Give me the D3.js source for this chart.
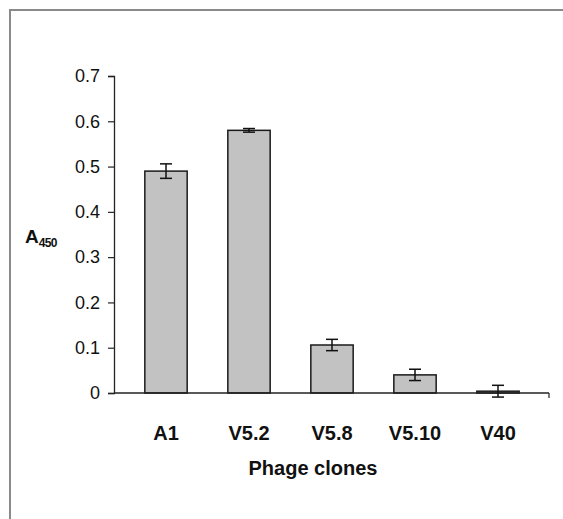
<!DOCTYPE html>
<html>
<head>
<meta charset="utf-8">
<script src="https://cdn.jsdelivr.net/npm/d3@7"></script>
<style>
  body { margin: 0; background: #fff; }
  text { font-family: Arial, "Liberation Sans", sans-serif; fill: #111; }
</style>
</head>
<body>
<div id="chart"></div>
<script>
// data
var clones = ["A1", "V5.2", "V5.8", "V5.10", "V40"];
var a450 = [0.49, 0.58, 0.106, 0.040, 0.004];
var errs = [0.016, 0.004, 0.0125, 0.0125, 0.013];
var yTicks = [0, 0.1, 0.2, 0.3, 0.4, 0.5, 0.6, 0.7];

var W = 563, H = 519;

var svg = d3.select("#chart")
    .append("svg")
    .attr("width", W)
    .attr("height", H);

// outer frame
svg.append("rect")
    .attr("x", 10)
    .attr("y", 10)
    .attr("width", W)
    .attr("height", H)
    .attr("fill", "none")
    .attr("stroke", "#8a8a8a")
    .attr("stroke-width", 2);

var axisLeft = 114, axisRight = 549;

var y = d3.scaleLinear()
    .domain([0, 0.7])
    .range([393, 76]);

var x = d3.scaleBand()
    .domain(clones)
    .range([124.5, 539.5])
    .paddingInner(0.49)
    .paddingOuter(0.245);

// y axis
var yAxis = svg.append("g")
    .attr("transform", "translate(" + axisLeft + ",0)")
    .call(d3.axisLeft(y).tickValues(yTicks).tickSize(6).tickPadding(8)
        .tickFormat(function(d){ return d === 0 ? "0" : d3.format(".1f")(d); }));
yAxis.select(".domain").attr("stroke", "#222").attr("stroke-width", 1.3);
yAxis.selectAll(".tick line").attr("stroke", "#222").attr("stroke-width", 1.2);
yAxis.selectAll(".tick text")
    .style("font-size", "18px")
    .style("font-family", "Arial, 'Liberation Sans', sans-serif")
    .attr("fill", "#222");

// bars
var bars = svg.append("g");
bars.selectAll("rect")
    .data(clones)
    .enter().append("rect")
    .attr("x", function(d){ return x(d); })
    .attr("width", x.bandwidth())
    .attr("y", function(d, i){ return y(a450[i]); })
    .attr("height", function(d, i){ return y(0) - y(a450[i]); })
    .attr("fill", "#c2c2c2")
    .attr("stroke", "#1a1a1a")
    .attr("stroke-width", 1.5);

// x axis line
svg.append("line")
    .attr("x1", axisLeft)
    .attr("x2", axisRight)
    .attr("y1", y(0))
    .attr("y2", y(0))
    .attr("stroke", "#222")
    .attr("stroke-width", 1.3);
svg.append("line")
    .attr("x1", axisRight)
    .attr("x2", axisRight)
    .attr("y1", y(0))
    .attr("y2", y(0) + 5)
    .attr("stroke", "#222")
    .attr("stroke-width", 1.2);

// error bars
var eb = svg.append("g").attr("stroke", "#111").attr("stroke-width", 1.5);
clones.forEach(function(c, i){
    var cx = x(c) + x.bandwidth() / 2;
    var top = y(a450[i] + errs[i]), bot = y(a450[i] - errs[i]);
    eb.append("line").attr("x1", cx).attr("x2", cx).attr("y1", top).attr("y2", bot);
    eb.append("line").attr("x1", cx - 6).attr("x2", cx + 6).attr("y1", top).attr("y2", top);
    eb.append("line").attr("x1", cx - 6).attr("x2", cx + 6).attr("y1", bot).attr("y2", bot);
});

// category labels
svg.append("g").selectAll("text")
    .data(clones)
    .enter().append("text")
    .attr("x", function(d){ return x(d) + x.bandwidth() / 2; })
    .attr("y", 440)
    .attr("text-anchor", "middle")
    .style("font-size", "20px")
    .style("font-weight", "bold")
    .text(function(d){ return d; });

// axis titles
svg.append("text")
    .attr("x", 313)
    .attr("y", 475)
    .attr("text-anchor", "middle")
    .style("font-size", "20px")
    .style("font-weight", "bold")
    .text("Phage clones");

var yt = svg.append("text")
    .attr("x", 25)
    .attr("y", 243)
    .style("font-size", "19px")
    .style("font-weight", "bold");
yt.append("tspan").text("A");
yt.append("tspan")
    .attr("dy", 4)
    .style("font-size", "12px")
    .style("letter-spacing", "-0.7px")
    .text("450");
</script>
</body>
</html>
